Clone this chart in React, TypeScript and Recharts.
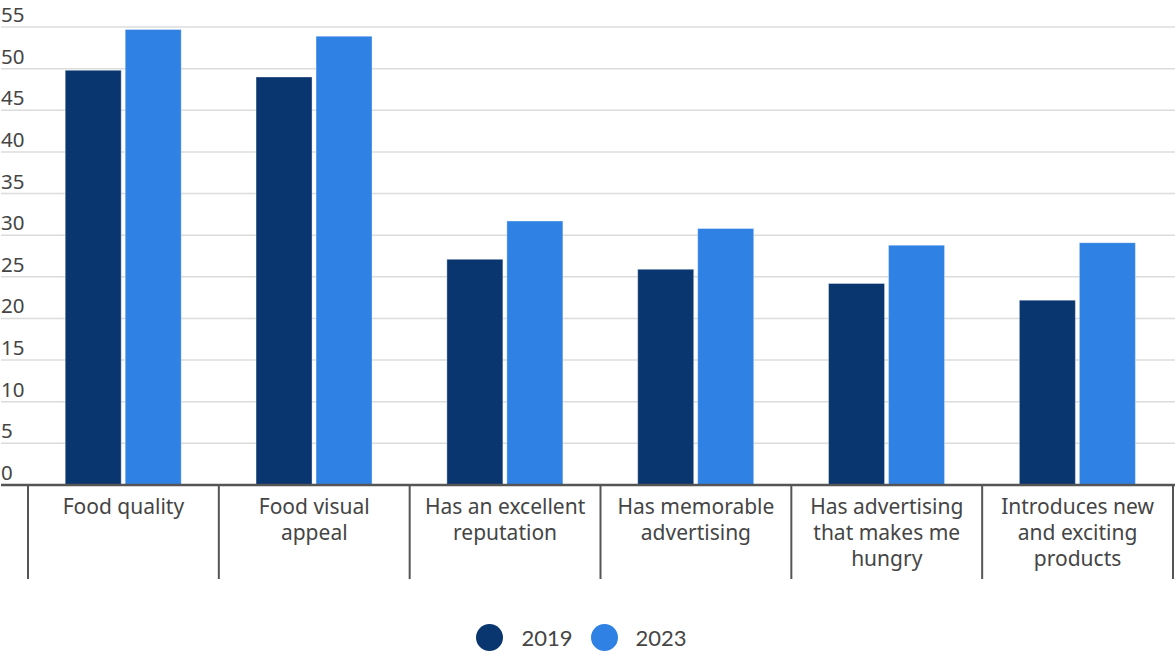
import { BarChart, Bar, XAxis, YAxis, CartesianGrid, Legend } from 'recharts';

const categories = [
    'Food quality',
    'Food visual appeal',
    'Has an excellent reputation',
    'Has memorable advertising',
    'Has advertising that makes me hungry',
    'Introduces new and exciting products',
];
// how each category label wraps under the axis
const labelLines = [
    ['Food quality'],
    ['Food visual', 'appeal'],
    ['Has an excellent', 'reputation'],
    ['Has memorable', 'advertising'],
    ['Has advertising', 'that makes me', 'hungry'],
    ['Introduces new', 'and exciting', 'products'],
];
const values2019 = [49.8, 49.0, 27.1, 25.9, 24.2, 22.2];
const values2023 = [54.7, 53.9, 31.7, 30.8, 28.8, 29.1];
const yTicks = [0, 5, 10, 15, 20, 25, 30, 35, 40, 45, 50, 55];

const COLORS = { y2019: '#0a3670', y2023: '#2f81e4' };
const FONT = '"Noto Sans", "Open Sans", sans-serif';

const data = categories.map((name, i) => ({
    name,
    v2019: values2019[i],
    v2023: values2023[i],
}));

const CategoryTick = (props: any) => {
    const { x, y, payload, index } = props;
    const half = payload.offset || 0;
    const lines = labelLines[index] || [payload.value];
    const isLast = index === categories.length - 1;
    return (
        <g>
            <line x1={x - half} x2={x - half} y1={y - 7} y2={y + 86} stroke="#555" strokeWidth={2} />
            {isLast && <line x1={x + half} x2={x + half} y1={y - 7} y2={y + 86} stroke="#555" strokeWidth={2} />}
            {lines.map((l: string, k: number) => (
                <text key={k} x={x} y={y + 21 + k * 26} textAnchor="middle" fill="#454545" fontSize={21} fontFamily={FONT}>
                    {l}
                </text>
            ))}
        </g>
    );
};

const ValueTick = (props: any) => {
    const { y, payload } = props;
    return (
        <text x={1} y={y - 5} textAnchor="start" fill="#454545" fontSize={20.5} fontFamily={FONT}>
            {payload.value}
        </text>
    );
};

const LegendContent = () => (
    <div style={{ display: 'flex', justifyContent: 'center', alignItems: 'center', paddingTop: 44, paddingRight: 12, fontFamily: 'Lato, "Noto Sans", sans-serif', fontSize: 22, color: '#454545' }}>
        {[{ label: '2019', color: COLORS.y2019 }, { label: '2023', color: COLORS.y2023 }].map((it) => (
            <div key={it.label} style={{ display: 'flex', alignItems: 'center', margin: '0 9px' }}>
                <span style={{ width: 27, height: 27, borderRadius: '50%', background: it.color, display: 'inline-block', marginRight: 18 }} />
                <span>{it.label}</span>
            </div>
        ))}
    </div>
);

export default function App() {
    return (
        <div style={{ position: 'absolute', left: 0, top: 0, width: 1175, height: 651, background: '#fff' }}>
            <BarChart width={1175} height={651} data={data} margin={{ top: 27, right: 0, left: 0, bottom: 0 }} barGap={4} barCategoryGap="19.5%">
                <CartesianGrid horizontal vertical={false} stroke="#dcdcdc" strokeWidth={1.5} />
                <XAxis
                    dataKey="name"
                    height={95}
                    padding={{ left: 27, right: 2 }}
                    axisLine={{ stroke: '#555', strokeWidth: 2.5 }}
                    tickLine={false}
                    interval={0}
                    tick={<CategoryTick />}
                />
                <YAxis width={1} domain={[0, 55]} ticks={yTicks} interval={0} axisLine={false} tickLine={false} tick={<ValueTick />} />
                <Legend verticalAlign="bottom" height={71} content={<LegendContent />} />
                <Bar dataKey="v2019" name="2019" fill={COLORS.y2019} stroke="rgba(255,255,255,0.35)" strokeWidth={1} isAnimationActive={false} />
                <Bar dataKey="v2023" name="2023" fill={COLORS.y2023} stroke="rgba(255,255,255,0.35)" strokeWidth={1} isAnimationActive={false} />
            </BarChart>
        </div>
    );
}
